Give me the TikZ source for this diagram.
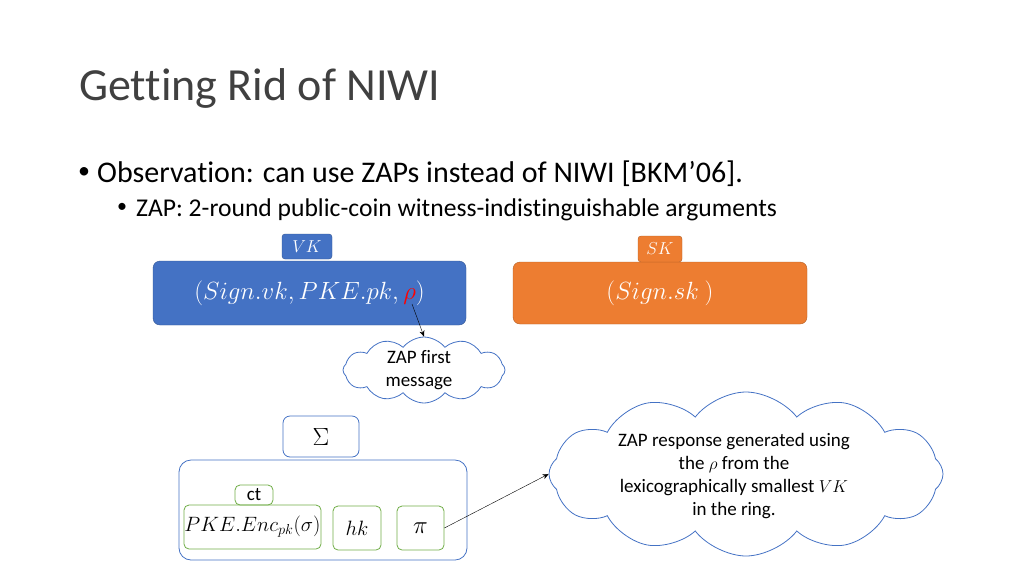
\documentclass[tikz,border=0pt]{standalone}
\usepackage{fontspec}
\setmainfont{Carlito}[Ligatures=CommonOff]
\usepackage{tikz}
\usetikzlibrary{shapes.symbols,arrows.meta}
\definecolor{keyblue}{HTML}{4472C4}
\definecolor{keyorange}{HTML}{ED7D31}
\definecolor{keygreen}{HTML}{70AD47}
\definecolor{titlegray}{HTML}{404040}

\begin{document}
\begin{tikzpicture}[x=1pt,y=-1pt,
  keybox/.style={draw=#1!75!black, fill=#1, rounded corners=7pt, text=white,
    font=\fontsize{26}{30}\selectfont},
  keytag/.style={draw=#1!75!black, fill=#1, rounded corners=3pt, text=white,
    font=\fontsize{18}{21}\selectfont, inner sep=0pt},
  partbox/.style={draw=keygreen, thick, rounded corners=5pt, inner sep=0pt,
    font=\fontsize{20}{24}\selectfont},
  bubble/.style={draw=keyblue, line width=0.8pt, cloud, cloud puffs=12, cloud puff arc=105,
    cloud ignores aspect, inner sep=0pt},
  bubbletext/.style={align=center, font=\fontsize{19}{23}\selectfont, inner sep=0pt},
  dot/.style={inner sep=0pt, font=\fontsize{#1}{#1}\selectfont}]
  \useasboundingbox (0,0) rectangle (1024,576);

  % title and bullets
  \node[anchor=base west, text=titlegray, font=\fontsize{46}{54}\selectfont, inner sep=0pt]
    (title) at (79,100) {Getting Rid of NIWI};
  \node[dot=24] (dot1) at (84,173) {\textbullet};
  \node[anchor=base west, font=\fontsize{30}{34}\selectfont, inner sep=0pt]
    (obs) at (97,182) {Observation: can use ZAPs instead of NIWI [BKM’06].};
  \node[dot=20] (dot2) at (122,208) {\textbullet};
  \node[anchor=base west, font=\fontsize{25.6}{30}\selectfont, inner sep=0pt]
    (zap) at (136,216) {ZAP: 2-round public-coin witness-indistinguishable arguments};

  % keys
  \node[keybox=keyblue, minimum width=313, minimum height=64] (vk) at (309.5,293)
    {$(Sign.vk, PKE.pk, {\color{red}\rho})$};
  \node[keytag=keyblue, minimum width=50, minimum height=25] (vktag) at (307,246.5) {$VK$};
  \node[keybox=keyorange, minimum width=294, minimum height=62] (sk) at (660,293)
    {$(Sign.sk\ )$};
  \node[keytag=keyorange, minimum width=44, minimum height=26] (sktag) at (660,249) {$SK$};
  \coordinate (rho) at (412,304);

  \node[bubble, minimum width=162, minimum height=66] (first) at (424,370) {};
  \node[bubbletext] (firsttext) at (419,370) {ZAP first\\message};
  \draw[-{Stealth[length=6pt,width=5pt]}] (rho) -- (first.north);

  % signature
  \node[draw=keyblue, line width=0.8pt, rounded corners=7pt, minimum width=76, minimum height=41,
    font=\fontsize{26}{30}\selectfont] (sigma) at (321,436.5) {$\Sigma$};
  \draw[keyblue, line width=0.8pt, rounded corners=12pt] (179,460) rectangle (467,560);
  \node[partbox, minimum width=38, minimum height=20, font=\fontsize{19}{22}\selectfont]
    (ct) at (254,495) {ct};
  \node[partbox, minimum width=137, minimum height=44] (enc) at (252.5,527)
    {$PKE.Enc_{pk}(\sigma)$};
  \node[partbox, minimum width=48, minimum height=44] (hk) at (357,528) {$hk$};
  \node[partbox, minimum width=47, minimum height=44, font=\fontsize{28}{32}\selectfont]
    (pi) at (420.5,528) {$\pi$};

  \node[bubble, minimum width=394, minimum height=164] (resp) at (746,474) {};
  \node[bubbletext] (resptext) at (734,476)
    {ZAP response generated using\\the $\rho$ from the\\lexicographically smallest $VK$\\in the ring.};
  \draw[-{Stealth[length=6pt,width=5pt]}] (pi.east) -- (resp.west);
\end{tikzpicture}
\end{document}
